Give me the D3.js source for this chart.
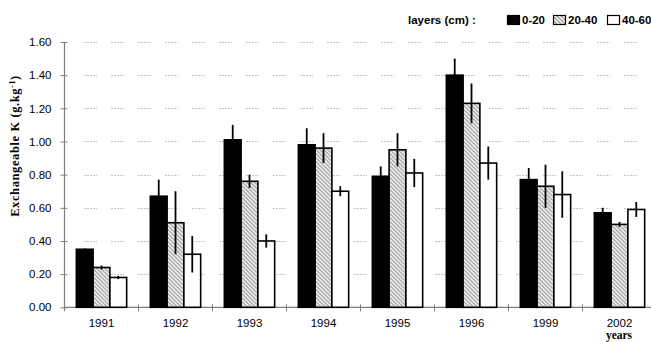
<!DOCTYPE html>
<html><head><meta charset="utf-8">
<script src="https://cdn.jsdelivr.net/npm/d3@7"></script>
<style>body{margin:0;background:#fff}svg{display:block}</style>
</head><body>
<svg id="c" width="651" height="342"></svg>
<script>
const years = ["1991","1992","1993","1994","1995","1996","1999","2002"];
const layers = ["0-20","20-40","40-60"];
const mean020 = [0.35,0.67,1.01,0.98,0.79,1.40,0.77,0.57];
const mean2040 = [0.24,0.51,0.76,0.96,0.95,1.23,0.73,0.50];
const mean4060 = [0.18,0.32,0.40,0.70,0.81,0.87,0.68,0.59];
const err020 = [0.005,0.10,0.09,0.10,0.06,0.10,0.07,0.03];
const err2040 = [0.012,0.19,0.04,0.09,0.10,0.12,0.13,0.015];
const err4060 = [0.01,0.11,0.04,0.03,0.085,0.10,0.14,0.045];
const yTicks = [0,0.2,0.4,0.6,0.8,1.0,1.2,1.4,1.6];

const means = [mean020, mean2040, mean4060];
const errs = [err020, err2040, err4060];
const data = years.map((yr,i)=>({year:yr, vals:layers.map((l,j)=>({layer:l, v:means[j][i], e:errs[j][i]}))}));

const svg = d3.select("#c");
const W = 651;
const mLeft = 64.5, mBottom = 307.3, mTop = 42;
const y = d3.scaleLinear().domain([0,1.6]).range([mBottom, mTop]);
const x0 = d3.scaleBand().domain(years).range([mLeft, mLeft + 74*8]).paddingInner(0.32).paddingOuter(0.16);
const x1 = d3.scaleBand().domain(layers).range([0, x0.bandwidth()]);

// hatch pattern
const defs = svg.append("defs");
const pat = defs.append("pattern").attr("id","hatch").attr("patternUnits","userSpaceOnUse")
  .attr("width",4).attr("height",4);
pat.append("rect").attr("width",4).attr("height",4).attr("fill","#fff");
pat.append("path").attr("d","M-1,-1 L5,5 M-1,3 L1,5 M3,-1 L5,1").attr("stroke","#a0a0a0").attr("stroke-width",1.5);

const fills = {"0-20":"#000","20-40":"url(#hatch)","40-60":"#fff"};

// gridlines
svg.append("g").selectAll("line").data(yTicks.filter(t=>t>0)).join("line")
  .attr("x1",84).attr("x2",W).attr("y1",d=>Math.round(y(d))+0.5).attr("y2",d=>Math.round(y(d))+0.5)
  .attr("stroke","#c4c4c4").attr("stroke-width",1).attr("stroke-dasharray","2,1,2,1,2,1,2,1,1,14");

// y axis
const yAxis = d3.axisLeft(y).tickValues(yTicks).tickFormat(d3.format(".2f")).tickSize(4).tickPadding(9);
const gy = svg.append("g").attr("transform",`translate(${mLeft},0)`).call(yAxis);
gy.select(".domain").attr("stroke","#808080").attr("stroke-width",1.2).attr("d",`M0,${mTop}V${mBottom+4}`);
gy.selectAll(".tick line").attr("stroke","#808080").attr("x1",3);
gy.selectAll(".tick text").attr("font-family","Liberation Sans, Arial, sans-serif").attr("font-size",11.5).attr("fill","#000");

// x axis
const xAxis = d3.axisBottom(x0).tickSize(0).tickPadding(12);
const gx = svg.append("g").attr("transform",`translate(0,${mBottom})`).call(xAxis);
gx.select(".domain").attr("stroke","#808080").attr("stroke-width",1.2).attr("d",`M${mLeft},0H${W}`);
gx.selectAll(".tick text").attr("font-family","Liberation Sans, Arial, sans-serif").attr("font-size",11.5).attr("fill","#000");
// boundary ticks
svg.append("g").selectAll("line").data(years.slice(1)).join("line")
  .attr("x1",d=>x0(d)-x0.step()*x0.paddingInner()/2).attr("x2",d=>x0(d)-x0.step()*x0.paddingInner()/2)
  .attr("y1",mBottom-3).attr("y2",mBottom+4).attr("stroke","#808080").attr("stroke-width",1);

// bars
const groups = svg.append("g").selectAll("g").data(data).join("g").attr("transform",d=>`translate(${x0(d.year)},0)`);
groups.selectAll("rect").data(d=>d.vals).join("rect")
  .attr("x",d=>x1(d.layer)).attr("width",x1.bandwidth())
  .attr("y",d=>y(d.v)).attr("height",d=>y(0)-y(d.v))
  .attr("fill",d=>fills[d.layer]).attr("stroke","#000").attr("stroke-width",1.6);
groups.selectAll("line.err").data(d=>d.vals).join("line").attr("class","err")
  .attr("x1",d=>x1(d.layer)+x1.bandwidth()/2).attr("x2",d=>x1(d.layer)+x1.bandwidth()/2)
  .attr("y1",d=>y(d.v+d.e)).attr("y2",d=>y(Math.max(0,d.v-d.e)))
  .attr("stroke","#000").attr("stroke-width",1.8);

// y label
const yl = svg.append("text").attr("transform","translate(19,146) rotate(-90)").attr("text-anchor","middle")
  .attr("font-family","Liberation Serif, Times New Roman, serif").attr("font-weight","bold").attr("font-size",12.5)
  .attr("letter-spacing",0.6);
yl.append("tspan").text("Exchangeable K (g.kg");
yl.append("tspan").attr("dy",-4).attr("font-size",8).text("-1");
yl.append("tspan").attr("dy",4).text(")");

// years label
svg.append("text").attr("x",619).attr("y",339).attr("text-anchor","middle")
  .attr("font-family","Liberation Serif, Times New Roman, serif").attr("font-weight","bold").attr("font-size",11.5)
  .text("years");

// legend
const lf = "Liberation Sans, Arial, sans-serif";
svg.append("text").attr("x",408).attr("y",23.5).attr("font-family",lf).attr("font-weight","bold").attr("font-size",11.5).text("layers (cm) :");
const legX = [507,553,607];
const lg = svg.append("g").selectAll("g").data(layers).join("g").attr("transform",(d,i)=>`translate(${legX[i]},0)`);
lg.append("rect").attr("x",0.5).attr("y",15.5).attr("width",12).attr("height",9)
  .attr("fill",d=>fills[d]).attr("stroke","#000").attr("stroke-width",1.2);
lg.append("text").attr("x",15).attr("y",24).attr("font-family",lf).attr("font-weight","bold").attr("font-size",11.5).text(d=>d);
</script>
</body></html>
